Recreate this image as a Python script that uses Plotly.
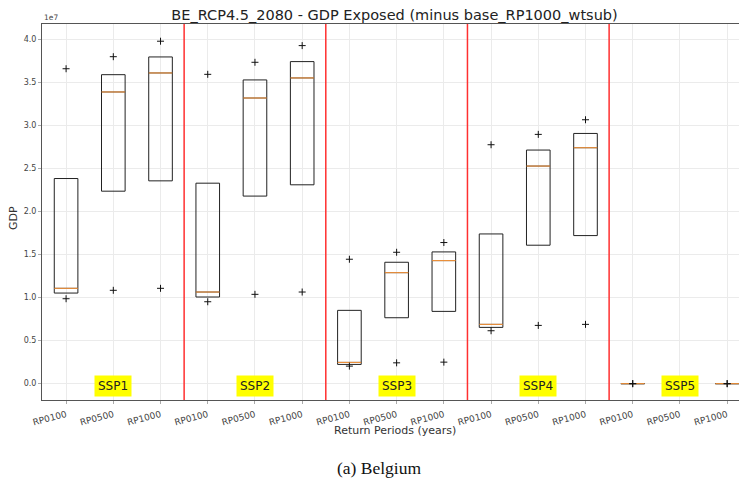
import plotly.graph_objects as go

# --- data (values in GDP units) ---
ssps = ['SSP1', 'SSP2', 'SSP3', 'SSP4', 'SSP5']
rps = ['RP0100', 'RP0500', 'RP1000']

q1 = [1.053e7, 2.237e7, 2.357e7,
      1.007e7, 2.180e7, 2.311e7,
      0.2235e7, 0.766e7, 0.840e7,
      0.654e7, 1.609e7, 1.721e7,
      0.0, None, 0.0]
median = [1.108e7, 3.390e7, 3.611e7,
          1.065e7, 3.320e7, 3.553e7,
          0.247e7, 1.290e7, 1.430e7,
          0.689e7, 2.529e7, 2.742e7,
          0.0, None, 0.0]
q3 = [2.384e7, 3.591e7, 3.797e7,
      2.330e7, 3.530e7, 3.743e7,
      0.852e7, 1.411e7, 1.531e7,
      1.740e7, 2.715e7, 2.908e7,
      0.0, None, 0.0]
flier_low = [0.987e7, 1.085e7, 1.108e7,
             0.952e7, 1.038e7, 1.065e7,
             0.204e7, 0.242e7, 0.250e7,
             0.615e7, 0.677e7, 0.689e7,
             0.0, None, 0.0]
flier_high = [3.660e7, 3.800e7, 3.980e7,
              3.595e7, 3.735e7, 3.929e7,
              1.446e7, 1.527e7, 1.640e7,
              2.777e7, 2.897e7, 3.067e7,
              0.0, None, 0.0]

positions = list(range(1, len(ssps) * len(rps) + 1))
tick_labels = rps * len(ssps)
box_w = 0.5

# keep only boxes that have data
bx, bq1, bmed, bq3 = [], [], [], []
for p, a, m, b in zip(positions, q1, median, q3):
    if m is None:
        continue
    bx.append(p)
    bq1.append(a)
    bmed.append(m)
    bq3.append(b)

fig = go.Figure()

fig.add_trace(go.Box(
    x=bx, q1=bq1, median=bmed, q3=bq3,
    lowerfence=bq1, upperfence=bq3,
    width=box_w,
    fillcolor='rgba(255,255,255,0)',
    line=dict(color='#222222', width=1),
    whiskerwidth=0,
    boxpoints=False,
    hoverinfo='skip',
    showlegend=False
))

# orange median lines
mx, my = [], []
for p, m in zip(bx, bmed):
    mx += [p - box_w / 2, p + box_w / 2, None]
    my += [m, m, None]
fig.add_trace(go.Scatter(
    x=mx, y=my, mode='lines',
    line=dict(color='#ff9a3c', width=1),
    hoverinfo='skip', showlegend=False
))

# fliers
fx, fy = [], []
for p, lo, hi in zip(positions, flier_low, flier_high):
    if lo is None:
        continue
    fx += [p, p]
    fy += [lo, hi]
fig.add_trace(go.Scatter(
    x=fx, y=fy, mode='markers',
    marker=dict(symbol='cross-thin', size=5, line=dict(color='#111111', width=1)),
    hoverinfo='skip', showlegend=False
))

# SSP separators
for i in range(1, len(ssps)):
    fig.add_vline(x=i * len(rps) + 0.5, line=dict(color='#ff3030', width=1.5))

# SSP labels
for i, s in enumerate(ssps):
    fig.add_annotation(
        x=i * len(rps) + 2, y=-0.03e7, text=s, showarrow=False,
        bgcolor='#ffff00', borderpad=3,
        font=dict(family='DejaVu Sans', size=12, color='#222222')
    )

fig.add_annotation(
    x=0, y=1, xref='paper', yref='paper', xanchor='left', yanchor='bottom',
    text='1e7', showarrow=False, font=dict(family='DejaVu Sans', size=7.5, color='#444444')
)

# axis titles
fig.add_annotation(
    x=0.5007, y=-0.0824, xref='paper', yref='paper', xanchor='center', yanchor='middle',
    text='Return Periods (years)', showarrow=False,
    font=dict(family='DejaVu Sans', size=11, color='#333333')
)
fig.add_annotation(
    x=-0.0411, y=0.484, xref='paper', yref='paper', xanchor='center', yanchor='middle',
    text='GDP', textangle=-90, showarrow=False,
    font=dict(family='DejaVu Sans', size=11, color='#333333')
)

fig.add_annotation(
    x=0.478, y=-0.181, xref='paper', yref='paper', xanchor='center', yanchor='middle',
    text='(a) Belgium', showarrow=False,
    font=dict(family='Liberation Serif', size=17.5, color='#111111')
)

# page body adds an 8px offset, so the figure is sized to fit the window
fig.update_layout(
    width=739, height=476,
    margin=dict(l=34, r=0, t=16, b=84),
    paper_bgcolor='white', plot_bgcolor='white',
    title=dict(text='BE_RCP4.5_2080 - GDP Exposed (minus base_RP1000_wtsub)',
               x=0.5, xref='paper', y=1, yref='container', yanchor='top',
               pad=dict(t=2),
               font=dict(family='DejaVu Sans', size=14.5, color='#222222'),
               automargin=False),
    font=dict(family='DejaVu Sans', color='#444444'),
)

fig.update_xaxes(
    range=[0.49, 15.42],
    tickvals=positions, ticktext=tick_labels, tickangle=-15,
    tickfont=dict(size=9, color='#444444'),
    ticklabelstandoff=2,
    showgrid=True, gridcolor='#ebebeb', gridwidth=1,
    showline=True, linecolor='#555555', linewidth=1, mirror=True,
    ticks='outside', ticklen=3, tickcolor='#aaaaaa', zeroline=False,
    automargin=False
)

fig.update_yaxes(
    range=[-0.19e7, 4.18e7],
    tickvals=[i * 0.5e7 for i in range(9)],
    ticktext=[f'{i * 0.5:.1f}' for i in range(9)],
    tickfont=dict(size=8, color='#444444'),
    showgrid=True, gridcolor='#ebebeb', gridwidth=1,
    showline=True, linecolor='#555555', linewidth=1,
    ticks='outside', ticklen=3, tickcolor='#aaaaaa', zeroline=False,
    automargin=False
)

fig.write_html('out.html')
